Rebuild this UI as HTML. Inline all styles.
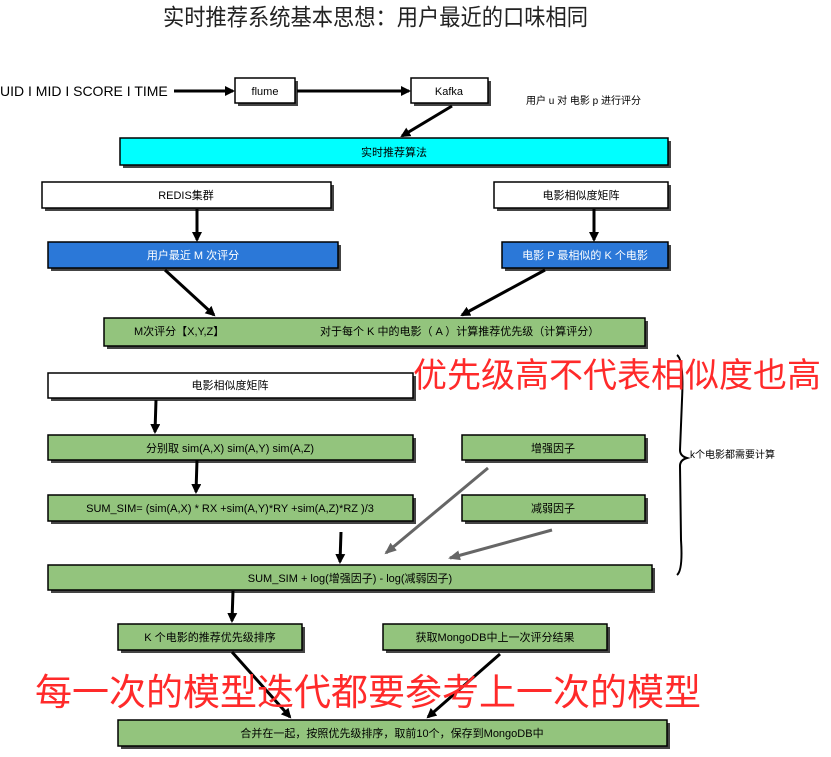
<!DOCTYPE html>
<html><head><meta charset="utf-8"><style>
body{margin:0;background:#fff;}
svg text{font-family:"Liberation Sans","Noto Sans CJK SC",sans-serif;}
</style></head><body>
<svg width="831" height="752" viewBox="0 0 831 752" xmlns="http://www.w3.org/2000/svg">
<defs>
<marker id="ah" markerWidth="10" markerHeight="10" refX="8" refY="5" orient="auto" markerUnits="userSpaceOnUse"><path d="M0,0 L10,5 L0,10 Z" fill="#000"/></marker>
<marker id="ag" markerWidth="12" markerHeight="10" refX="10" refY="5" orient="auto" markerUnits="userSpaceOnUse"><path d="M0,0 L12,5 L0,10 Z" fill="#666"/></marker>
</defs>
<text x="163" y="25" font-size="23" textLength="425" lengthAdjust="spacingAndGlyphs" fill="#222">实时推荐系统基本思想：用户最近的口味相同</text>

<g stroke="#000" stroke-width="1.5">
<g fill="#444" stroke="none">
<rect x="238" y="81" width="60" height="25"/><rect x="414" y="81" width="77" height="25"/>
<rect x="123" y="141" width="548" height="27"/>
<rect x="45" y="185" width="289" height="26"/><rect x="497" y="185" width="174" height="26"/>
<rect x="51" y="245" width="290" height="26"/><rect x="505" y="245" width="166" height="26"/>
<rect x="107" y="321" width="541" height="28"/>
<rect x="51" y="376" width="365" height="25"/>
<rect x="51" y="438" width="365" height="25"/><rect x="465" y="438" width="183" height="25"/>
<rect x="51" y="498" width="365" height="26"/><rect x="465" y="498" width="183" height="26"/>
<rect x="51" y="568" width="604" height="25"/>
<rect x="121" y="627" width="184" height="26"/><rect x="386" y="627" width="224" height="26"/>
<rect x="121" y="723" width="549" height="26"/>
</g>
<rect x="235" y="78" width="60" height="25" fill="#fff"/>
<rect x="411" y="78" width="77" height="25" fill="#fff"/>
<rect x="120" y="138" width="548" height="27" fill="#00ffff"/>
<rect x="42" y="182" width="289" height="26" fill="#fff"/>
<rect x="494" y="182" width="174" height="26" fill="#fff"/>
<rect x="48" y="242" width="290" height="26" fill="#2b78d8"/>
<rect x="502" y="242" width="166" height="26" fill="#2b78d8"/>
<rect x="104" y="318" width="541" height="28" fill="#93c47d"/>
<rect x="48" y="373" width="365" height="25" fill="#fff"/>
<rect x="48" y="435" width="365" height="25" fill="#93c47d"/>
<rect x="462" y="435" width="183" height="25" fill="#93c47d"/>
<rect x="48" y="495" width="365" height="26" fill="#93c47d"/>
<rect x="462" y="495" width="183" height="26" fill="#93c47d"/>
<rect x="48" y="565" width="604" height="25" fill="#93c47d"/>
<rect x="118" y="624" width="184" height="26" fill="#93c47d"/>
<rect x="383" y="624" width="224" height="26" fill="#93c47d"/>
<rect x="118" y="720" width="549" height="26" fill="#93c47d"/>
</g>

<g stroke="#000" stroke-width="3" marker-end="url(#ah)">
<line x1="174" y1="91" x2="233" y2="91"/>
<line x1="297" y1="91" x2="409" y2="91"/>
<line x1="452" y1="106" x2="402" y2="136"/>
<line x1="197" y1="209" x2="197" y2="240"/>
<line x1="594" y1="209" x2="594" y2="240"/>
<line x1="165" y1="270" x2="214" y2="315"/>
<line x1="545" y1="270" x2="462" y2="315"/>
<line x1="156" y1="400" x2="155" y2="432"/>
<line x1="197" y1="460" x2="196" y2="492"/>
<line x1="341" y1="532" x2="340" y2="562"/>
<line x1="233" y1="591" x2="232" y2="621"/>
<line x1="232" y1="652" x2="290" y2="717"/>
<line x1="500" y1="654" x2="428" y2="717"/>
</g>
<g stroke="#666" stroke-width="3" marker-end="url(#ag)">
<line x1="488" y1="468" x2="386" y2="553"/>
<line x1="552" y1="530" x2="450" y2="558"/>
</g>
<path d="M677,355 Q684,360 682,400 L680,450 Q680,456 687,458 Q680,460 680,466 L681,540 Q683,570 677,575" fill="none" stroke="#000" stroke-width="2"/>

<g font-size="11" text-anchor="middle" fill="#000">
<text x="265" y="95">flume</text>
<text x="449" y="95">Kafka</text>
<text x="394" y="156">实时推荐算法</text>
<text x="186" y="199">REDIS集群</text>
<text x="581" y="199">电影相似度矩阵</text>
<text x="193" y="259" fill="#fff">用户最近 M 次评分</text>
<text x="585" y="259" fill="#fff">电影 P 最相似的 K 个电影</text>
<text x="230" y="389">电影相似度矩阵</text>
<text x="230" y="452">分别取 sim(A,X)  sim(A,Y)  sim(A,Z)</text>
<text x="553" y="452">增强因子</text>
<text x="230" y="512">SUM_SIM= (sim(A,X) * RX +sim(A,Y)*RY +sim(A,Z)*RZ )/3</text>
<text x="553" y="512">减弱因子</text>
<text x="350" y="582">SUM_SIM + log(增强因子) - log(减弱因子)</text>
<text x="210" y="641">K 个电影的推荐优先级排序</text>
<text x="495" y="641">获取MongoDB中上一次评分结果</text>
<text x="392" y="737">合并在一起，按照优先级排序，取前10个，保存到MongoDB中</text>
</g>
<text x="134" y="335" font-size="11">M次评分【X,Y,Z】</text>
<text x="320" y="335" font-size="11">对于每个 K 中的电影（ A ）计算推荐优先级（计算评分）</text>
<text x="526" y="104" font-size="10">用户 u 对 电影 p 进行评分</text>
<text x="690" y="458" font-size="10">k个电影都需要计算</text>
<text x="0" y="96" font-size="14">UID I MID I SCORE I TIME</text>
<text x="413" y="387" font-size="34" fill="#ff2a2a">优先级高不代表相似度也高</text>
<text x="35" y="705" font-size="37" fill="#ff2a2a">每一次的模型迭代都要参考上一次的模型</text>
</svg>
</body></html>
